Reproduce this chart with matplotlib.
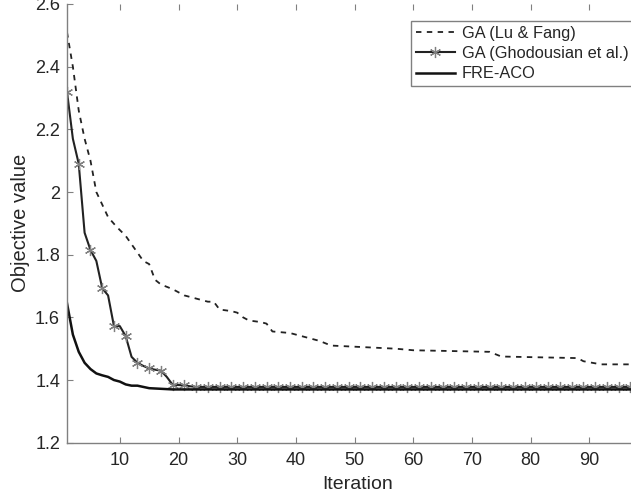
import matplotlib.pyplot as plt

plt.rcParams['font.family'] = ['Liberation Sans', 'DejaVu Sans']

# GA (Lu & Fang) - breakpoints
lu_x = [1, 2, 3, 4, 5, 6, 7, 8, 9.4, 11, 12.5, 14, 15, 16, 17, 19, 20, 21, 23,
        25, 26, 27, 29, 30, 31, 32, 34, 35, 36, 39, 40, 42, 44, 46, 57, 60,
        73, 75, 88, 89, 92, 100]
lu_y = [2.51, 2.40, 2.26, 2.17, 2.10, 2.00, 1.96, 1.92, 1.89, 1.86, 1.82, 1.78,
        1.77, 1.72, 1.705, 1.69, 1.68, 1.67, 1.66, 1.65, 1.65, 1.625, 1.62,
        1.615, 1.60, 1.59, 1.585, 1.58, 1.555, 1.55, 1.545, 1.535, 1.525,
        1.51, 1.50, 1.495, 1.49, 1.475, 1.47, 1.46, 1.45, 1.45]

iters = list(range(1, 101))

# GA (Ghodousian et al.)
gh_y = [2.32, 2.17, 2.09, 1.87, 1.815, 1.78, 1.693, 1.67, 1.572, 1.572,
        1.54, 1.474, 1.455, 1.445, 1.437, 1.433, 1.43, 1.41, 1.385, 1.384,
        1.383, 1.38, 1.378] + [1.378] * 77

# FRE-ACO
fre_y = [1.645, 1.545, 1.49, 1.455, 1.435, 1.421, 1.415, 1.41, 1.40, 1.395,
         1.386, 1.382, 1.382, 1.378, 1.374, 1.373, 1.372, 1.371] + [1.37] * 82

fig = plt.figure(figsize=(6.31, 5.01), dpi=100)
W, H = 631, 501
ax = fig.add_axes([67 / W, (H - 442.7) / H, (648 - 67) / W, (442.7 - 4) / H])

ax.plot(lu_x, lu_y, color='#222222', lw=1.3, ls=(0, (3, 3)), label='GA (Lu & Fang)')
ax.plot(iters, gh_y, color='#222222', lw=1.5, marker=(6, 2, 0), markersize=8,
        markevery=2, markeredgecolor='#808080', markeredgewidth=0.9,
        label='GA (Ghodousian et al.)')
ax.plot(iters, fre_y, color='#111111', lw=1.8, label='FRE-ACO')

ax.set_xlim(1, 100)
ax.set_ylim(1.2, 2.6)
ax.set_xticks(range(10, 100, 10))
ax.set_yticks([1.2, 1.4, 1.6, 1.8, 2.0, 2.2, 2.4, 2.6])
ax.set_yticklabels(['1.2', '1.4', '1.6', '1.8', '2', '2.2', '2.4', '2.6'])

for s in ax.spines.values():
    s.set_color('#808080')
    s.set_linewidth(1.0)
ax.spines['top'].set_visible(False)

ax.tick_params(direction='in', length=4.3, width=0.8, color='#808080',
               labelsize=13, labelcolor='#262626', top=True, right=True)
ax.tick_params(axis='y', pad=5)
ax.tick_params(axis='x', pad=7)

ax.set_xlabel('Iteration', fontsize=14, color='#262626', labelpad=5)
ax.set_ylabel('Objective value', fontsize=14.5, color='#262626')
ax.yaxis.set_label_coords(-0.063, 0.5)

leg = ax.legend(loc='upper left', bbox_to_anchor=(410.7 / W, (H - 20.7) / H),
                bbox_transform=fig.transFigure, fontsize=11.8, frameon=True,
                fancybox=False, framealpha=1, edgecolor='#808080',
                handlelength=2.4, handletextpad=0.4, borderpad=0.3,
                labelspacing=0.33, borderaxespad=0)
leg.get_frame().set_linewidth(1.0)
for t in leg.get_texts():
    t.set_color('#262626')

fig.savefig('out.png', dpi=100)
